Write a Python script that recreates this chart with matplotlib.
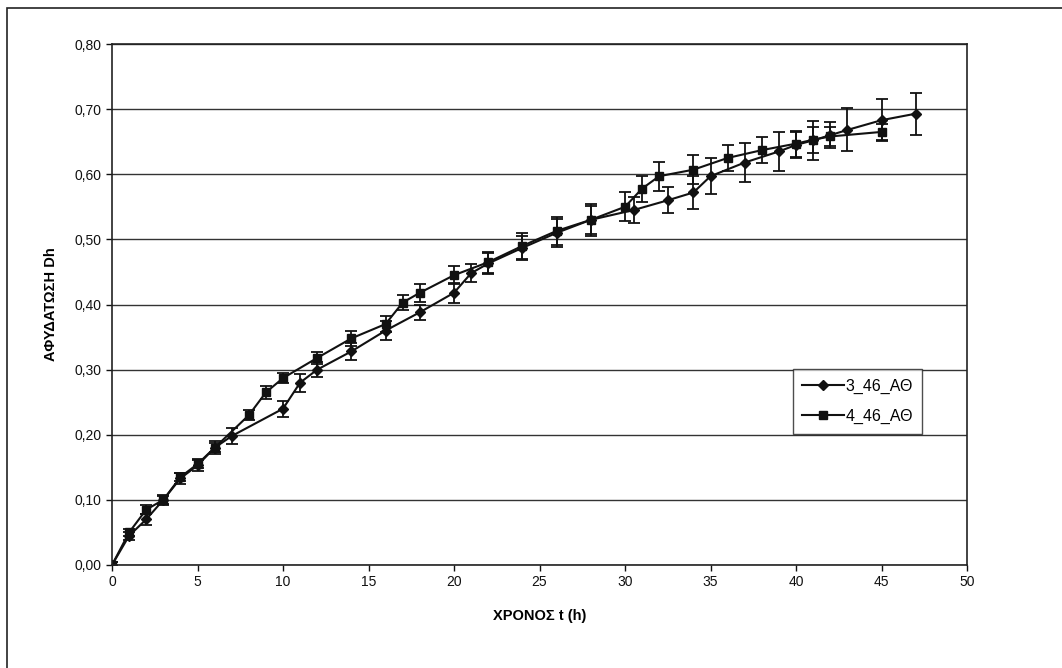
import numpy as np
import matplotlib.pyplot as plt
from matplotlib.patches import Rectangle
from matplotlib.lines import Line2D
from matplotlib.ticker import FuncFormatter

plt.rcParams['font.family'] = ['Liberation Sans', 'DejaVu Sans']

# 3_46_ΑΘ
t3 = [0, 1, 2, 3, 4, 5, 6, 7, 10, 11, 12, 14, 16, 18, 20, 21, 22, 24, 26, 28,
      30.5, 32.5, 34, 35, 37, 39, 40, 41, 42, 43, 45, 47]
dh3 = [0.00, 0.045, 0.07, 0.10, 0.133, 0.153, 0.18, 0.198, 0.24, 0.28, 0.30,
       0.328, 0.36, 0.388, 0.418, 0.448, 0.463, 0.487, 0.51, 0.53,
       0.545, 0.56, 0.572, 0.597, 0.618, 0.635, 0.645, 0.652, 0.66, 0.668,
       0.683, 0.693]
err3 = [0.004, 0.006, 0.008, 0.008, 0.008, 0.009, 0.01, 0.012, 0.012, 0.014,
        0.012, 0.013, 0.014, 0.012, 0.015, 0.014, 0.016, 0.018, 0.022, 0.022,
        0.02, 0.02, 0.025, 0.028, 0.03, 0.03, 0.02, 0.03, 0.02, 0.033,
        0.032, 0.032]

# 4_46_ΑΘ
t4 = [0, 1, 2, 3, 4, 5, 6, 8, 9, 10, 12, 14, 16, 17, 18, 20, 22, 24, 26, 28,
      30, 31, 32, 34, 36, 38, 40, 41, 42, 45]
dh4 = [0.00, 0.05, 0.085, 0.10, 0.135, 0.155, 0.18, 0.23, 0.265, 0.287,
       0.318, 0.348, 0.37, 0.403, 0.418, 0.445, 0.465, 0.49, 0.513, 0.53,
       0.55, 0.578, 0.597, 0.607, 0.625, 0.637, 0.647, 0.653, 0.658, 0.665]
err4 = [0.004, 0.006, 0.007, 0.006, 0.006, 0.006, 0.007, 0.008, 0.01, 0.008,
        0.009, 0.012, 0.012, 0.012, 0.014, 0.014, 0.016, 0.02, 0.022, 0.025,
        0.022, 0.02, 0.022, 0.022, 0.02, 0.02, 0.02, 0.02, 0.015, 0.012]

fig = plt.figure(figsize=(10.62, 6.68), dpi=100)
ax = fig.add_axes([112 / 1062, 1 - 565 / 668, 855 / 1062, 521 / 668])

# frame round the whole chart
fig.patches.append(Rectangle((7 / 1062, -0.01), 1.02, 1 - 8 / 668 + 0.01,
                             transform=fig.transFigure, fill=False,
                             edgecolor='#222222', linewidth=1.2))

kw = dict(color='#111111', ecolor='#111111', elinewidth=1.3, capsize=4.5,
          capthick=1.3, linewidth=1.5)
ax.errorbar(t3, dh3, yerr=err3, marker='D', markersize=5.5, **kw)
ax.errorbar(t4, dh4, yerr=err4, marker='s', markersize=6, **kw)

ax.set_xlim(0, 50)
ax.set_ylim(0, 0.80)
ax.set_xticks(np.arange(0, 51, 5))
ax.set_yticks(np.arange(0, 0.81, 0.10))
ax.yaxis.set_major_formatter(FuncFormatter(lambda v, p: f'{v:.2f}'.replace('.', ',')))
ax.yaxis.grid(True, color='#333333', linewidth=1.0)
ax.set_axisbelow(True)
ax.tick_params(labelsize=10, direction='out', length=4, width=1, colors='#111111')
for s in ax.spines.values():
    s.set_color('#222222')
    s.set_linewidth(1.2)

ax.set_xlabel('ΧΡΟΝΟΣ t (h)', fontsize=10.5, fontweight='bold', labelpad=14)
ax.set_ylabel('ΑΦΥΔΑΤΩΣΗ Dh', fontsize=10.5, fontweight='bold', labelpad=12)

handles = [Line2D([], [], color='#111111', linewidth=1.5, marker='D', markersize=5.5),
           Line2D([], [], color='#111111', linewidth=1.5, marker='s', markersize=6)]
leg = ax.legend(handles, ['3_46_ΑΘ', '4_46_ΑΘ'], loc='upper left',
                bbox_to_anchor=(0.796, 0.376), fontsize=11.5,
                frameon=True, fancybox=False, edgecolor='#222222',
                handlelength=2.6, borderpad=0.6, labelspacing=0.95,
                handletextpad=0.1, borderaxespad=0)
leg.get_frame().set_linewidth(1.0)

fig.savefig('out.png', dpi=100, facecolor='white')
